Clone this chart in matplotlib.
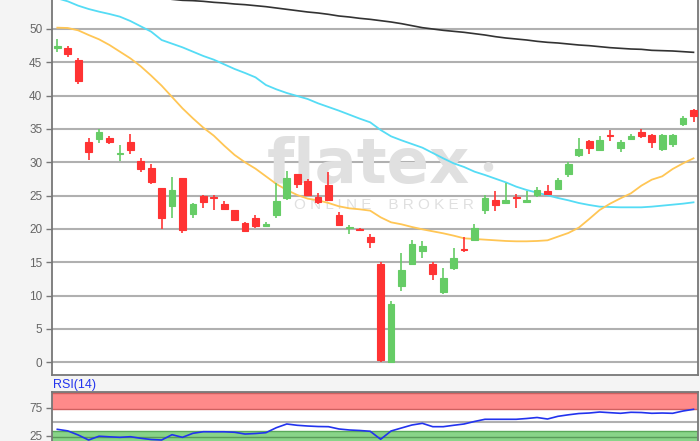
import numpy as np
import matplotlib
matplotlib.use("Agg")
import matplotlib.pyplot as plt

# ---------------- data ----------------
opens  = [47.2, 47.2, 45.4, 33.1, 33.5, 33.6, 31.3, 33.0, 30.2, 29.1,
          26.1, 23.5, 27.7, 22.3, 25.0, 24.8, 23.8, 22.8, 20.9, 21.6,
          20.5, 22.1, 24.7, 28.2, 27.2, 24.8, 26.6, 22.1, 20.2, 20.0,
          18.8, 14.8, 0.1, 11.5, 14.8, 16.7, 14.8, 10.5, 14.1, 17.0,
          18.3, 22.8, 24.4, 23.9, 24.75, 24.0, 25.1, 25.7, 26.0, 28.2,
          31.1, 33.2, 31.8, 34.05, 32.1, 33.5, 34.5, 34.1, 32.0, 32.8,
          35.7, 37.8]
highs  = [48.5, 47.5, 45.6, 33.6, 35.0, 34.0, 32.6, 34.2, 30.7, 29.7,
          26.2, 27.8, 27.7, 23.9, 25.1, 25.1, 24.2, 22.9, 21.0, 22.1,
          21.0, 26.9, 28.7, 28.3, 27.5, 25.4, 28.5, 22.5, 20.6, 20.2,
          19.3, 15.1, 9.2, 16.4, 18.4, 18.2, 15.0, 14.1, 17.2, 18.8,
          20.7, 25.1, 25.7, 26.9, 25.2, 25.7, 26.3, 26.6, 27.6, 30.1,
          33.6, 33.3, 34.0, 34.8, 33.4, 34.3, 35.0, 34.3, 34.2, 34.2,
          36.95, 38.0]
lows   = [46.6, 45.8, 41.8, 30.4, 32.9, 32.7, 30.2, 31.2, 28.5, 26.8,
          20.0, 21.7, 19.4, 21.7, 23.1, 22.9, 22.9, 21.2, 19.5, 20.1,
          20.3, 21.7, 24.4, 26.2, 25.0, 23.7, 24.3, 20.5, 19.3, 19.7,
          17.2, 0.1, 0.0, 10.7, 14.8, 15.7, 12.4, 10.2, 13.8, 16.6,
          18.2, 22.2, 22.7, 23.8, 23.2, 23.9, 24.8, 25.2, 25.9, 27.8,
          30.8, 31.3, 31.7, 33.2, 31.6, 33.4, 33.6, 32.2, 31.7, 32.3,
          35.5, 36.0]
closes = [47.4, 46.3, 42.2, 31.6, 34.5, 33.1, 31.4, 31.8, 29.0, 27.0,
          21.7, 25.8, 19.8, 23.7, 24.0, 24.6, 23.0, 21.4, 19.7, 20.5,
          20.7, 24.2, 27.7, 26.7, 25.1, 24.0, 24.4, 20.6, 20.3, 19.85,
          18.1, 0.4, 8.8, 13.8, 17.7, 17.4, 13.2, 12.7, 15.7, 16.9,
          20.2, 24.6, 23.6, 24.3, 24.65, 24.4, 25.9, 25.3, 27.3, 29.8,
          32.0, 32.2, 33.3, 33.95, 33.1, 33.9, 34.0, 33.0, 34.1, 34.1,
          36.7, 36.9]

ma_orange = [50.2, 50.15, 49.8, 49.1, 48.45, 47.6, 46.6, 45.6, 44.4, 43.0,
             41.5, 39.8, 38.1, 36.6, 35.2, 34.0, 32.5, 31.1, 30.0, 29.05,
             27.9, 26.75, 25.85, 25.1, 24.55, 24.3, 23.9, 23.4, 23.1, 22.95,
             22.75, 21.75, 21.0, 20.7, 20.3, 19.95, 19.65, 19.35, 19.0, 18.6,
             18.5, 18.4, 18.3, 18.2, 18.15, 18.15, 18.2, 18.3, 18.85, 19.4,
             20.2, 21.5, 22.85, 23.8, 24.6, 25.35, 26.5, 27.4, 27.9, 29.0,
             29.85, 30.6]
ma_cyan = [54.6, 54.15, 53.5, 53.0, 52.6, 52.25, 51.85, 51.2, 50.4, 49.6,
           48.35, 47.8, 47.25, 46.6, 45.95, 45.4, 44.7, 44.0, 43.4, 42.75,
           41.6, 40.95, 40.4, 39.95, 39.5, 38.85, 38.3, 37.75, 37.15, 36.55,
           36.0, 34.85, 33.9, 33.3, 32.75, 32.2, 31.4, 30.6, 29.85, 29.3,
           28.6, 28.1, 27.55, 27.0, 26.35, 25.85, 25.45, 25.05, 24.65, 24.3,
           23.9, 23.6, 23.35, 23.3, 23.25, 23.25, 23.25, 23.35, 23.5, 23.65,
           23.8, 24.0]
ma_black = [np.nan] * 11 + [
            54.45, 54.3, 54.25, 54.15, 54.0, 53.9, 53.75, 53.65, 53.5,
            53.35, 53.15, 52.95, 52.75, 52.55, 52.4, 52.2, 51.95, 51.8, 51.6,
            51.45, 51.25, 51.05, 50.8, 50.5, 50.2, 50.0, 49.8, 49.65, 49.5,
            49.3, 49.1, 48.85, 48.65, 48.5, 48.35, 48.15, 48.0, 47.9, 47.75,
            47.6, 47.5, 47.35, 47.2, 47.1, 47.0, 46.95, 46.8, 46.75, 46.7,
            46.6, 46.5]

rsi = [36.4, 33.6, 26.3, 17.3, 24.1, 23.0, 22.1, 23.2, 20.4, 18.2,
       17.3, 26.8, 22.1, 29.3, 32.1, 32.0, 32.0, 31.1, 28.0, 28.9,
       30.4, 39.3, 45.9, 43.6, 42.3, 41.4, 41.1, 37.0, 35.2, 34.3,
       32.9, 18.6, 33.4, 38.8, 44.1, 47.1, 41.1, 41.1, 43.6, 45.9,
       50.4, 54.3, 54.3, 54.3, 54.3, 55.7, 57.5, 54.8, 59.6, 62.3,
       64.6, 65.5, 67.3, 66.1, 65.0, 66.8, 66.4, 65.0, 65.5, 65.0,
       69.1, 72.1]

price_ticks = [0, 5, 10, 15, 20, 25, 30, 35, 40, 45, 50, 55]
rsi_ticks = [25, 75]

# ---------------- figure ----------------
W, H = 700, 441
bg = "#f4f4f4"
fig = plt.figure(figsize=(W / 100, H / 100), dpi=100, facecolor=bg)

def fx(px):
    return px / W

def fy(py):
    return 1 - py / H

AX_L, AX_R, AX_B, AX_T = 52, 698, 375, -11
ax = fig.add_axes([fx(AX_L), fy(AX_B), fx(AX_R) - fx(AX_L), fy(AX_T) - fy(AX_B)])
ax.set_facecolor("white")
n = len(opens)
x = np.arange(n)
ax.set_xlim(-0.51, 61.43)
ax.set_ylim(-1.905, 56.0)

grid_c = "#b0b0b0"
for t in price_ticks:
    ax.axhline(t, color=grid_c, lw=1.5, zorder=1)

def axf(px, py):
    return (px - AX_L) / (AX_R - AX_L), (AX_B - py) / (AX_B - AX_T)

wm_c = "#e0e0e0"
ax.text(*axf(368, 183), "flatex", transform=ax.transAxes, ha="center", va="baseline",
        fontsize=45, fontweight="bold", color=wm_c, family="DejaVu Sans", zorder=2)
ax.text(*axf(488, 166), "\u25cf", transform=ax.transAxes, ha="center", va="center",
        fontsize=9, color=wm_c, family="DejaVu Sans", zorder=2)
ax.text(*axf(384, 205), "O N L I N E    B R O K E R", transform=ax.transAxes,
        ha="center", va="center", fontsize=11, color=wm_c,
        family="Liberation Sans", zorder=2)

red = "#ff3333"
green = "#66cc66"
opens_a = np.array(opens); closes_a = np.array(closes)
cols = [green if c >= o else red for o, c in zip(opens, closes)]
ax.vlines(x, lows, highs, colors=cols, lw=1.2, zorder=4)
bottoms = np.minimum(opens_a, closes_a)
heights = np.abs(closes_a - opens_a)
ax.bar(x, heights, bottom=bottoms, width=0.64, color=cols, edgecolor=cols,
       linewidth=0.8, zorder=5)

ax.plot(x, ma_black, color="#333333", lw=1.2, zorder=3)
ax.plot(x, ma_cyan, color="#55dcf5", lw=1.3, zorder=3)
ax.plot(x, ma_orange, color="#ffc655", lw=1.3, zorder=3)

ax.set_yticks(price_ticks)
ax.set_yticklabels([str(t) for t in price_ticks])
ax.set_xticks([])
ax.tick_params(axis="y", length=4, width=1, color="#777777", labelcolor="#666666",
               labelsize=8.5, pad=3)
for lab in ax.get_yticklabels():
    lab.set_family("Liberation Sans")
for s in ["left", "bottom", "right"]:
    ax.spines[s].set_color("#777777")
    ax.spines[s].set_linewidth(1.3)
ax.spines["top"].set_visible(False)

# RSI panel: 75 at 407.7 px, 0.56 px per unit
def rsi_y(v):
    return 407.7 + (75 - v) * 0.56

rax = fig.add_axes([fx(AX_L), fy(rsi_y(0)), fx(AX_R) - fx(AX_L), fy(392.3) - fy(rsi_y(0))])
rax.set_facecolor("white")
rax.set_xlim(-0.51, 61.43)
rax.set_ylim(0, 102.5)
rax.axhspan(73.2, 102.5, color="#ff8a8a", lw=0, zorder=1)
rax.axhline(73.2, color="#d06060", lw=1.0, zorder=2)
rax.axhline(101.5, color="#d06060", lw=1.0, zorder=2)
rax.axhspan(0, 32.5, color="#88d488", lw=0, zorder=1)
rax.axhline(32.5, color="#5aa85a", lw=1.0, zorder=2)
rax.axhline(50, color="#b0b0b0", lw=1.5, zorder=2)
rax.axhline(23, color="#5a9a5a", lw=1.0, zorder=2)
rax.plot(x, rsi, color="#2233ee", lw=1.2, zorder=4)
rax.set_yticks(rsi_ticks)
rax.set_yticklabels([str(t) for t in rsi_ticks])
rax.set_xticks([])
rax.tick_params(axis="y", length=4, width=1, color="#777777", labelcolor="#666666",
                labelsize=8.5, pad=3)
for lab in rax.get_yticklabels():
    lab.set_family("Liberation Sans")
for s in rax.spines.values():
    s.set_color("#777777")
    s.set_linewidth(1.3)

fig.text(fx(53), fy(385), "RSI(14)", color="#2233ee", fontsize=9,
         family="Liberation Sans", ha="left", va="center")

fig.savefig("out.png", dpi=100, facecolor=bg)
